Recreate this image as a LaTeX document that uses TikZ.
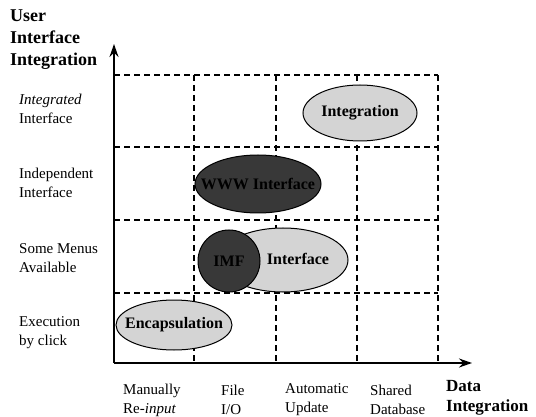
\documentclass[tikz,border=0pt]{standalone}
\usepackage{fontspec}
\setmainfont{Liberation Serif}
\usetikzlibrary{arrows.meta}

\tikzset{
  gridline/.style={line width=1.3pt, dash pattern=on 6pt off 4pt},
  axisline/.style={line width=1.8pt, -{Stealth[length=13pt,width=9pt]}},
  lightblob/.style={draw, line width=1pt, fill=black!17},
  darkblob/.style={draw, line width=1pt, fill=black!78},
  blobtext/.style={font=\fontsize{16}{19}\selectfont\bfseries, inner sep=0pt},
  rowtext/.style={font=\fontsize{15}{19}\selectfont, align=left, anchor=west, inner sep=0pt},
  coltext/.style={font=\fontsize{15}{19}\selectfont, align=left, anchor=west, inner sep=0pt},
  titletext/.style={font=\bfseries, align=left, anchor=west, inner sep=0pt}
}

\begin{document}
\begin{tikzpicture}[x=1pt, y=-1pt]
	%%%%% START %%%%%
	\useasboundingbox (0, 0) rectangle (536, 417);
	
	% dashed grid
	\foreach \gy in {75, 147, 220, 293}
		\draw[gridline] (114, \gy) -- (438, \gy);
	\foreach \gx in {194, 276, 357, 438}
		\draw[gridline] (\gx, 75) -- (\gx, 363);
	
	% axes
	\coordinate (origin) at (114, 363);
	\coordinate (ytip) at (114, 44);
	\coordinate (xtip) at (472, 363);
	\draw[axisline] (origin) -- (ytip);
	\draw[axisline] (origin) -- (xtip);
	
	% blobs
	\draw[lightblob] (360, 113) ellipse [x radius=57, y radius=28];
	\node[blobtext] (integ) at (360, 113) {Integration};
	
	\draw[darkblob] (258, 184) ellipse [x radius=63, y radius=29];
	\node[blobtext] (www) at (258, 184) {WWW Interface};
	
	\draw[lightblob] (283, 260) ellipse [x radius=65, y radius=32];
	\node[blobtext] (iface) at (298, 259) {Interface};
	\draw[darkblob] (229, 261) circle (31);
	\node[blobtext] (imf) at (229, 261) {IMF};
	
	\draw[lightblob] (174, 325) ellipse [x radius=58, y radius=25];
	\node[blobtext] (encap) at (174, 325) {Encapsulation};
	
	% axis titles
	\node[titletext, font=\fontsize{18}{22}\selectfont\bfseries] (uititle) at (10, 40) {User\\Interface\\Integration};
	\node[titletext, font=\fontsize{17}{20}\selectfont\bfseries] (datatitle) at (446, 398) {Data\\Integration};
	
	% row labels
	\node[rowtext] (rowa) at (19, 109) {\textit{Integrated}\\Interface};
	\node[rowtext] (rowb) at (19, 183) {Independent\\Interface};
	\node[rowtext] (rowc) at (19, 258) {Some Menus\\Available};
	\node[rowtext] (rowd) at (19, 333) {Execution\\by click};
	
	% column labels
	\node[coltext] (cola) at (123, 400) {Manually\\Re-\textit{input}};
	\node[coltext] (colb) at (221, 400) {File\\I/O};
	\node[coltext] (colc) at (285, 400) {Automatic\\Update};
	\node[coltext] (cold) at (370, 400) {Shared\\Database};
	%%%%% END %%%%%
\end{tikzpicture}
\end{document}
